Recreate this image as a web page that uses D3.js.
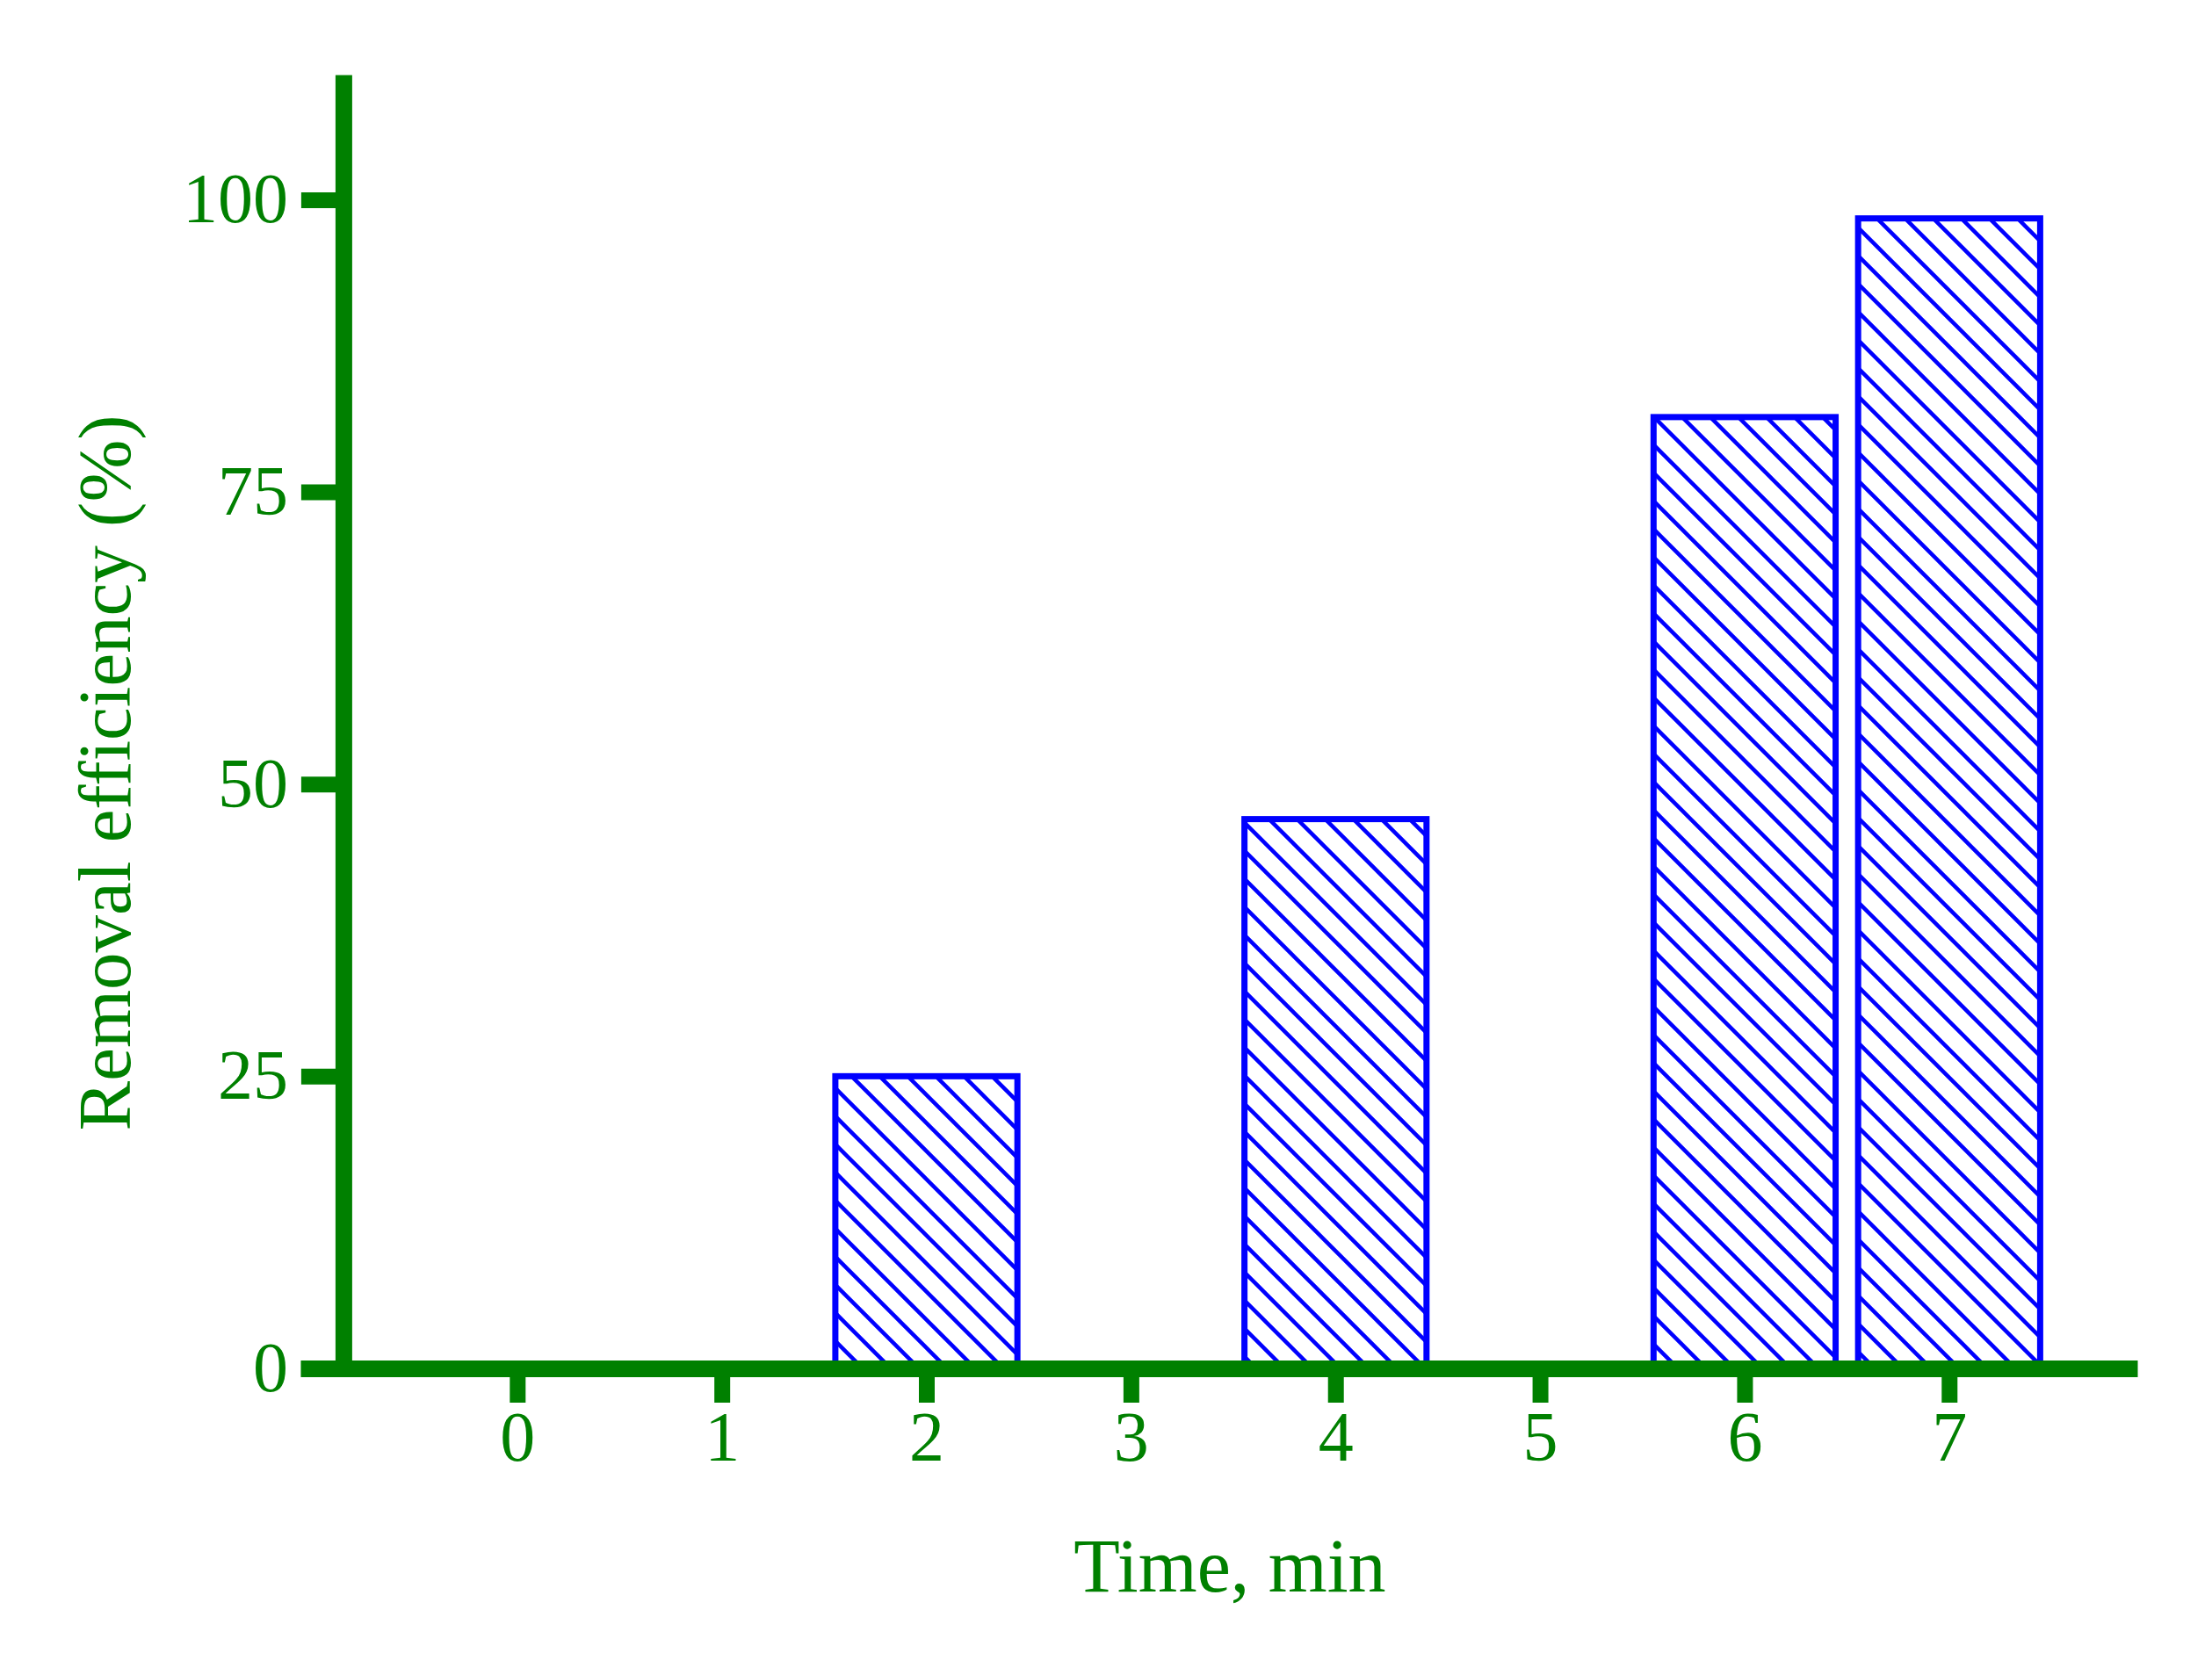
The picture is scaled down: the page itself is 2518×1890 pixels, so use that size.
<!DOCTYPE html>
<html>
<head>
<meta charset="utf-8">
<script src="https://cdn.jsdelivr.net/npm/d3@7"></script>
<style>
  html, body { margin: 0; padding: 0; background: #fff; }
  text { font-family: "Liberation Serif", "Times New Roman", serif; }
</style>
</head>
<body>
<div id="chart"></div>
<script>
// data
var times = [0, 1, 2, 3, 4, 5, 6, 7];
var efficiency = [0, 0, 25, 0, 47, 0, 81.4, 98.4];
var yTicks = [0, 25, 50, 75, 100];
var xTicks = [0, 1, 2, 3, 4, 5, 6, 7];

var width = 2518, height = 1890;
var green = "#008000", blue = "#0000ff";

var svg = d3.select("#chart")
    .append("svg")
    .attr("width", width)
    .attr("height", height)
    .style("background", "#fff");

// x axis line runs a bit left of the y axis, like the original
var x = d3.scaleLinear()
    .domain([-1.06, 7.92])
    .range([342, 2433]);

var y = d3.scaleLinear()
    .domain([0, 110.7])
    .range([1558, 85]);

var yAxisAt = -0.85;
var barW = x(0.89) - x(0);

// hatch fill
var defs = svg.append("defs");
defs.append("pattern")
    .attr("id", "hatch")
    .attr("patternUnits", "userSpaceOnUse")
    .attr("width", 32)
    .attr("height", 32)
  .append("path")
    .attr("d", "M-8,-8 L40,40 M-8,24 L8,40 M24,-8 L40,8")
    .attr("stroke", blue)
    .attr("stroke-width", 4.5);

var bars = times.map(function(t, i) { return {t: t, v: efficiency[i]}; })
    .filter(function(d) { return d.v > 0; });

svg.append("g")
  .selectAll("rect")
  .data(bars)
  .enter()
  .append("rect")
    .attr("x", function(d) { return x(d.t) - barW / 2; })
    .attr("y", function(d) { return y(d.v); })
    .attr("width", barW)
    .attr("height", function(d) { return y(0) - y(d.v); })
    .attr("fill", "url(#hatch)")
    .attr("stroke", blue)
    .attr("stroke-width", 7);

// y axis
var gy = svg.append("g")
    .attr("transform", `translate(${x(yAxisAt)},0)`)
    .style("color", green)
    .call(d3.axisLeft(y).tickValues(yTicks).tickSize(48).tickPadding(15).tickSizeOuter(0));

// x axis
var gx = svg.append("g")
    .attr("transform", `translate(0,${y(0)})`)
    .style("color", green)
    .call(d3.axisBottom(x).tickValues(xTicks).tickSize(39).tickPadding(9).tickSizeOuter(0));

[gx, gy].forEach(function(g) {
  g.select(".domain").attr("stroke-width", 19);
  g.selectAll(".tick line").attr("stroke-width", 18);
  g.selectAll(".tick text")
    .attr("fill", green)
    .style("font-family", '"Liberation Serif", serif')
    .style("font-size", "80px");
});

svg.append("text")
    .attr("x", 1400)
    .attr("y", 1812)
    .attr("text-anchor", "middle")
    .attr("fill", green)
    .style("font-size", "86px")
    .text("Time, min");

svg.append("text")
    .attr("transform", `translate(148,880) rotate(-90)`)
    .attr("text-anchor", "middle")
    .attr("fill", green)
    .style("font-size", "85px")
    .text("Removal efficiency (%)");
</script>
</body>
</html>
